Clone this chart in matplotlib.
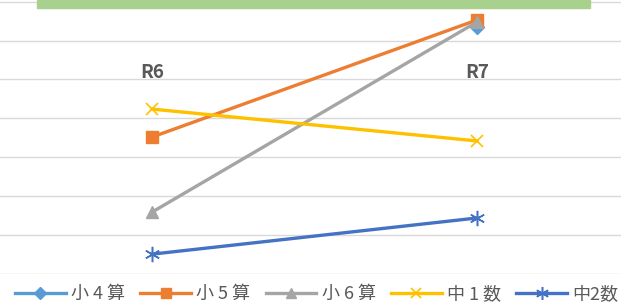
import numpy as np
import matplotlib.pyplot as plt
from matplotlib.patches import Rectangle

plt.rcParams['font.family'] = ['Noto Sans CJK JP', 'DejaVu Sans']

# data (arbitrary units: one gridline = 1)
rounds = ['R6', 'R7']
s4 = [np.nan, 6.35]
s5 = [3.52, 6.53]
s6 = [1.59, 6.48]
c1 = [4.24, 3.42]
c2 = [0.51, 1.44]
names = ['小 4 算', '小 5 算', '小 6 算', '中 1 数', '中2数']

fig = plt.figure(figsize=(6.21, 3.05), dpi=100)
ax = fig.add_axes([0, 31/305, 1, 274/305])

x = np.arange(len(rounds))
ax.plot(x, s4, color='#5B9BD5', lw=2.4, marker='D', ms=7, label=names[0], zorder=3)
ax.plot(x, s5, color='#ED7D31', lw=2.4, marker='s', ms=8, label=names[1], zorder=3)
ax.plot(x, s6, color='#A5A5A5', lw=2.4, marker='^', ms=9, label=names[2], zorder=3)
ax.plot(x, c1, color='#FFC000', lw=2.4, marker='x', ms=9, mew=1.2, label=names[3], zorder=3)
ax.plot(x, c2, color='#4472C4', lw=2.4, marker=(6, 2, 0), ms=11, mew=1.1, label=names[4], zorder=3)

for i, r in enumerate(rounds):
    ax.text(i, 5.17, r, ha='center', va='center', fontsize=13.5, fontweight='bold', color='#595959')

ax.set_xlim(-152/325, 469/325)
ax.set_ylim(0, 274/38.9)
ax.set_yticks(np.arange(0, 8))
ax.grid(axis='y', color='#D9D9D9', lw=1)
ax.set_axisbelow(True)
ax.tick_params(left=False, bottom=False, labelleft=False, labelbottom=False)
for sp in ax.spines.values():
    sp.set_visible(False)

# green bar at top
fig.patches.append(Rectangle((37/621, 1 - 8/305), 553/621, 8/305,
                             transform=fig.transFigure, color='#A9D18E', zorder=5))

leg = fig.legend(loc='center', bbox_to_anchor=(0.51, 11/305), ncol=5, frameon=False,
                 fontsize=13, handlelength=2.8, columnspacing=0.85, handletextpad=0.3,
                 labelcolor='#595959', markerscale=0.85)

fig.savefig('out.png', dpi=100)
